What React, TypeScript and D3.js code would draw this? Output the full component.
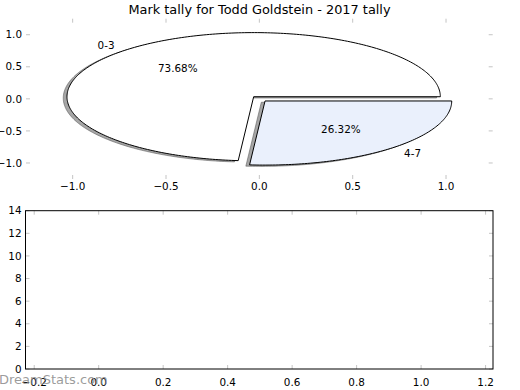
import React from 'react';
import * as d3 from 'd3';

const TITLE = 'Mark tally for Todd Goldstein - 2017 tally';
const WATERMARK = 'DreamStats.com';
const sliceLabels = ['0-3', '4-7'];
const sliceValues = [73.68, 26.32];
const sliceColors = ['#ffffff', '#eaf0fc'];
const sliceExplode = [0.045, 0.045];
const topXTicks = [-1.0, -0.5, 0.0, 0.5, 1.0];
const topYTicks = [-1.0, -0.5, 0.0, 0.5, 1.0];
const bottomXTicks = [-0.2, 0.0, 0.2, 0.4, 0.6, 0.8, 1.0, 1.2];
const bottomYTicks = [0, 2, 4, 6, 8, 10, 12, 14];

const W = 520;
const H = 390;
const FONT = '"DejaVu Sans", sans-serif';
const TICK_COLOR = '#c4c4c4';
const TICK_LEN = 4;
const TICK_FS = 10.4;

export default function App() {
  // top (pie) axes
  const xT = d3.scaleLinear().domain([-1.25, 1.25]).range([26, 492.7]);
  const yT = d3.scaleLinear().domain([-1.25, 1.25]).range([179, 18.7]);
  // bottom axes
  const xB = d3.scaleLinear().domain([-0.227, 1.223]).range([25.5, 493]);
  const yB = d3.scaleLinear().domain([0, 14]).range([369, 210.7]);

  const fmt1 = d3.format('.1f');
  const fmt0 = d3.format('d');

  const total = d3.sum(sliceValues);
  let cum = 0;
  const wedges = sliceValues.map((v, i) => {
    const t1 = (cum / total) * 2 * Math.PI;
    cum += v;
    const t2 = (cum / total) * 2 * Math.PI;
    const mid = (t1 + t2) / 2;
    const cx = sliceExplode[i] * Math.cos(mid);
    const cy = sliceExplode[i] * Math.sin(mid);
    return { i, v, t1, t2, mid, cx, cy };
  });

  const line = d3
    .line<[number, number]>()
    .x((d) => xT(d[0]))
    .y((d) => yT(d[1]));

  const wedgePath = (w: any, dx = 0, dy = 0) => {
    const n = Math.max(8, Math.ceil(((w.t2 - w.t1) / (2 * Math.PI)) * 360));
    const pts: [number, number][] = [[w.cx + dx, w.cy + dy]];
    for (let k = 0; k <= n; k++) {
      const a = w.t1 + ((w.t2 - w.t1) * k) / n;
      pts.push([w.cx + dx + Math.cos(a), w.cy + dy + Math.sin(a)]);
    }
    return line(pts) + 'Z';
  };

  const tickLabel = (s: string) => s;

  return (
    <svg
      width={W}
      height={H}
      style={{ position: 'absolute', left: 0, top: 0, background: '#fff' }}
      fontFamily={FONT}
    >
      <rect x={0} y={0} width={W} height={H} fill="#fff" />
      {/* title */}
      <text x={259.5} y={13.5} textAnchor="middle" fontSize={12.9} fill="#000">
        {TITLE}
      </text>

      {/* top axes ticks */}
      <g stroke={TICK_COLOR} strokeWidth={1}>
        {topXTicks.map((t) => (
          <g key={'tx' + t}>
            <line x1={xT(t)} x2={xT(t)} y1={yT.range()[1]} y2={yT.range()[1] + TICK_LEN} />
            <line x1={xT(t)} x2={xT(t)} y1={yT.range()[0]} y2={yT.range()[0] - TICK_LEN} />
          </g>
        ))}
        {topYTicks.map((t) => (
          <g key={'ty' + t}>
            <line x1={xT.range()[0]} x2={xT.range()[0] + TICK_LEN} y1={yT(t)} y2={yT(t)} />
            <line x1={xT.range()[1]} x2={xT.range()[1] - TICK_LEN} y1={yT(t)} y2={yT(t)} />
          </g>
        ))}
      </g>
      <g fontSize={TICK_FS} fill="#000">
        {topXTicks.map((t) => (
          <text key={'txl' + t} x={xT(t)} y={190} textAnchor="middle">
            {tickLabel(fmt1(t))}
          </text>
        ))}
        {topYTicks.map((t) => (
          <text key={'tyl' + t} x={22} y={yT(t) + 3.7} textAnchor="end">
            {tickLabel(fmt1(t))}
          </text>
        ))}
      </g>

      {/* shadows */}
      <g>
        {wedges.map((w) => (
          <path
            key={'sh' + w.i}
            d={wedgePath(w, -0.02, -0.02)}
            fill="#4d4d4d"
            fillOpacity={0.5}
            stroke="#4d4d4d"
            strokeOpacity={0.5}
            strokeWidth={1}
          />
        ))}
      </g>
      {/* wedges */}
      <g>
        {wedges.map((w) => (
          <path
            key={'w' + w.i}
            d={wedgePath(w)}
            fill={sliceColors[w.i]}
            stroke="#000"
            strokeWidth={1}
            strokeLinejoin="miter"
          />
        ))}
      </g>
      {/* labels */}
      <g fontSize={TICK_FS} fill="#000">
        {wedges.map((w) => {
          const lx = w.cx + 1.1 * Math.cos(w.mid);
          const ly = w.cy + 1.1 * Math.sin(w.mid);
          const px = w.cx + 0.6 * Math.cos(w.mid);
          const py = w.cy + 0.6 * Math.sin(w.mid);
          return (
            <g key={'lab' + w.i}>
              <text x={xT(lx)} y={yT(ly) + 3.7} textAnchor={lx < 0 ? 'end' : 'start'}>
                {sliceLabels[w.i]}
              </text>
              <text x={xT(px)} y={yT(py) + 3.7} textAnchor="middle">
                {d3.format('.2f')(w.v) + '%'}
              </text>
            </g>
          );
        })}
      </g>

      {/* bottom axes */}
      <g stroke={TICK_COLOR} strokeWidth={1}>
        {bottomXTicks.map((t) => (
          <g key={'bx' + t}>
            <line x1={xB(t)} x2={xB(t)} y1={yB.range()[1]} y2={yB.range()[1] + TICK_LEN} />
            <line x1={xB(t)} x2={xB(t)} y1={yB.range()[0]} y2={yB.range()[0] - TICK_LEN} />
          </g>
        ))}
        {bottomYTicks.map((t) => (
          <g key={'by' + t}>
            <line x1={xB.range()[0]} x2={xB.range()[0] + TICK_LEN} y1={yB(t)} y2={yB(t)} />
            <line x1={xB.range()[1]} x2={xB.range()[1] - TICK_LEN} y1={yB(t)} y2={yB(t)} />
          </g>
        ))}
      </g>
      <rect
        x={xB.range()[0]}
        y={yB.range()[1]}
        width={xB.range()[1] - xB.range()[0]}
        height={yB.range()[0] - yB.range()[1]}
        fill="none"
        stroke="#000"
        strokeWidth={1}
      />
      <g fontSize={TICK_FS} fill="#000">
        {bottomXTicks.map((t) => (
          <text key={'bxl' + t} x={xB(t)} y={385.5} textAnchor="middle">
            {fmt1(t)}
          </text>
        ))}
        {bottomYTicks.map((t) => (
          <text key={'byl' + t} x={21.5} y={yB(t) + 3.7} textAnchor="end">
            {fmt0(t)}
          </text>
        ))}
      </g>

      {/* watermark */}
      <text x={-1} y={384} fontSize={13} fill="#8a8a8a" fillOpacity={0.85}>
        {WATERMARK}
      </text>
    </svg>
  );
}
